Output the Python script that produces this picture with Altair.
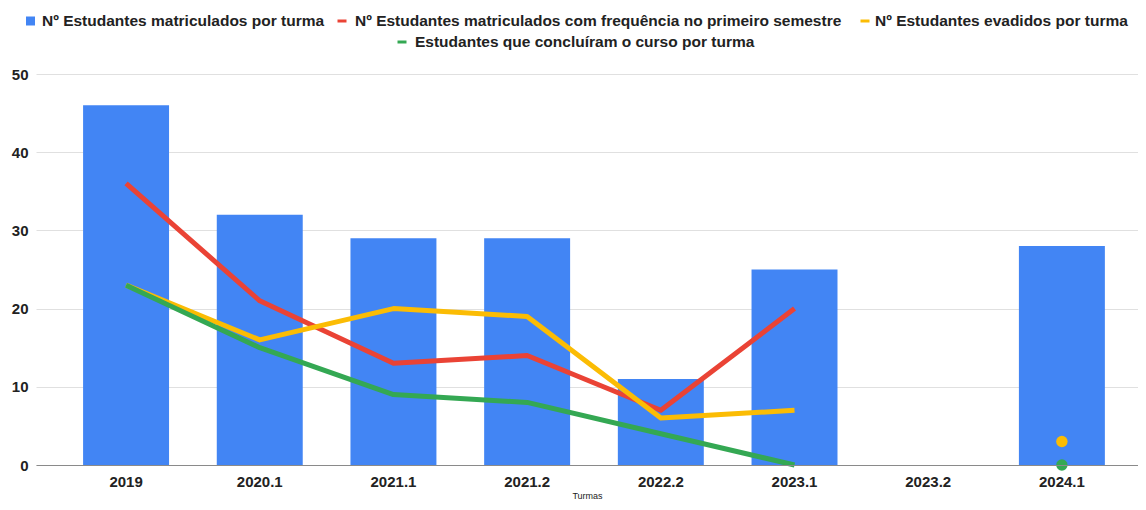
import altair as alt
import pandas as pd

turmas = ["2019", "2020.1", "2021.1", "2021.2", "2022.2", "2023.1", "2023.2", "2024.1"]
matriculados = [46, 32, 29, 29, 11, 25, None, 28]
frequencia = [36, 21, 13, 14, 7, 20, None, None]
evadidos = [23, 16, 20, 19, 6, 7, None, 3]
concluintes = [23, 15, 9, 8, 4, 0, None, 0]

label_bar = "Nº Estudantes matriculados por turma"
label_freq = "Nº Estudantes matriculados com frequência no primeiro semestre"
label_evad = "Nº Estudantes evadidos por turma"
label_conc = "Estudantes que concluíram o curso por turma"

BLUE = "#4285F4"
RED = "#EA4335"
YELLOW = "#FBBC04"
GREEN = "#34A853"
FONT = "Liberation Sans"

W, H = 1102, 391

xscale = alt.Scale(domain=turmas, paddingInner=0.357, paddingOuter=0.30, align=0.587)
xenc = alt.X("turma:N", sort=turmas, scale=xscale,
             axis=alt.Axis(title="Turmas", labelAngle=0, labelFontSize=15, labelFontWeight="bold",
                           labelColor="#222222", labelFont=FONT, labelPadding=9, ticks=False,
                           domainColor="#8a8a8a", domainWidth=1, grid=False,
                           titleFontSize=9, titleFontWeight="normal", titleColor="#222222",
                           titleFont=FONT, titlePadding=2, zindex=1))
yscale = alt.Scale(domain=[0, 50], nice=False)
yenc = alt.Y("valor:Q", scale=yscale,
             axis=alt.Axis(title=None, values=[0, 10, 20, 30, 40, 50], labelFontSize=15,
                           labelFontWeight="bold", labelColor="#222222", labelFont=FONT,
                           labelPadding=8, ticks=False, domain=False, gridColor="#e0e0e0",
                           gridWidth=1))

bar_df = pd.DataFrame({"turma": turmas, "valor": matriculados}).dropna()
bars = alt.Chart(bar_df).mark_bar(color=BLUE).encode(x=xenc, y=yenc)

layers = [bars]


def segments(values):
    segs, cur = [], []
    for t, v in zip(turmas, values):
        if v is None:
            if cur:
                segs.append(cur)
            cur = []
        else:
            cur.append((t, v))
    if cur:
        segs.append(cur)
    return segs


for vals, col in [(frequencia, RED), (evadidos, YELLOW), (concluintes, GREEN)]:
    line_rows, pt_rows = [], []
    for i, seg in enumerate(segments(vals)):
        rows = [{"turma": t, "valor": v, "seg": i} for t, v in seg]
        if len(seg) > 1:
            line_rows += rows
        else:
            pt_rows += rows
    if line_rows:
        layers.append(alt.Chart(pd.DataFrame(line_rows)).mark_line(
            color=col, strokeWidth=5, strokeJoin="round").encode(
            x=xenc, y=yenc, detail="seg:N", order=alt.Order("seg:Q")))
    if pt_rows:
        layers.append(alt.Chart(pd.DataFrame(pt_rows)).mark_point(
            color=col, filled=True, opacity=1, size=130, shape="circle").encode(x=xenc, y=yenc))

# manual legend (two centered rows like the original)
one = pd.DataFrame({"k": [0]})
legend_items = [
    ("square", BLUE, label_bar, -5.5, 6, -53),
    ("dash", RED, label_freq, 306, 319, -53),
    ("dash", YELLOW, label_evad, 829, 839, -53),
    ("dash", GREEN, label_conc, 366, 379, -32),
]
for kind, col, lab, sx, tx, ly in legend_items:
    if kind == "square":
        layers.append(alt.Chart(one).mark_rect(color=col).encode(
            x=alt.value(sx - 4.5), x2=alt.value(sx + 4.5), y=alt.value(ly - 4.5), y2=alt.value(ly + 4.5)))
    else:
        layers.append(alt.Chart(one).mark_rule(color=col, strokeWidth=3).encode(
            x=alt.value(sx - 4.5), x2=alt.value(sx + 4.5), y=alt.value(ly)))
    layers.append(alt.Chart(one).mark_text(
        align="left", baseline="middle", font=FONT, fontSize=15.5, fontWeight="bold",
        color="#222222").encode(x=alt.value(tx), y=alt.value(ly), text=alt.value(lab)))

chart = alt.layer(*layers).properties(
    width=W, height=H,
    autosize=alt.AutoSizeParams(type="none"),
    padding={"left": 28, "top": 66, "right": 0, "bottom": 37},
).configure_view(stroke=None)

chart.save("out.html", embed_options={"renderer": "svg", "actions": False})
